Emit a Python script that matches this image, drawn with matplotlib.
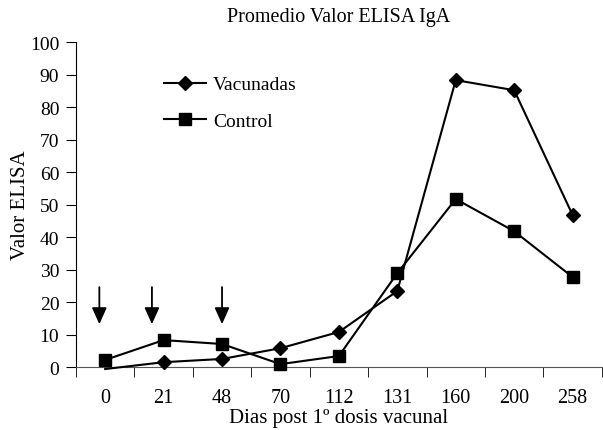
import matplotlib.pyplot as plt
import numpy as np

plt.rcParams['font.family'] = ['Liberation Serif', 'DejaVu Serif']

# Valores
dias = ["0", "21", "48", "70", "112", "131", "160", "200", "258"]
vacunadas = [-0.6, 1.5, 2.5, 5.8, 10.8, 23.4, 88.3, 85.2, 46.8]
control = [2.2, 8.3, 7.1, 0.9, 3.4, 28.9, 51.7, 41.8, 27.7]
# flechas de dosis vacunal (posicion en indice de categoria)
flechas_x = [-0.1, 0.8, 2.0]

x = np.arange(len(dias))

fig = plt.figure(figsize=(6.03, 4.31), dpi=100)
ax = fig.add_axes([0.126, 0.146, 0.872, 0.754])

ax.plot(x, vacunadas, color='black', lw=1.5, marker='D', ms=7,
        markevery=list(range(1, len(x))), label='Vacunadas', clip_on=False, zorder=3)
ax.plot(x, control, color='black', lw=1.5, marker='s', ms=8,
        label='Control', clip_on=False, zorder=3)

for fx in flechas_x:
    ax.annotate('', xy=(fx, 13.2), xytext=(fx, 24.6),
                arrowprops=dict(arrowstyle='-|>,head_width=0.45,head_length=1.0',
                                color='black', lw=1.3, shrinkA=0, shrinkB=0))

ax.set_xlim(-0.5, len(x) - 0.5)
ax.set_ylim(0, 100)
ax.set_yticks(range(0, 101, 10))
ax.set_xticks(x)
ax.set_xticklabels(dias)
ax.set_xticks(np.arange(-0.5, len(x), 1), minor=True)
ax.tick_params(axis='x', which='major', length=0, pad=15, labelsize=14.5)
ax.tick_params(axis='x', which='minor', length=7, direction='out')
ax.tick_params(axis='y', length=7, pad=5, direction='out', labelsize=14)

for s in ['top', 'right']:
    ax.spines[s].set_visible(False)
ax.spines['bottom'].set_color('#555555')

ax.set_title('Promedio Valor ELISA IgA', fontsize=14.5, pad=15)
ax.set_xlabel('Dias post 1º dosis vacunal', fontsize=15, labelpad=1)
ax.set_ylabel('Valor ELISA', fontsize=15, labelpad=0)

ax.legend(loc='upper left', bbox_to_anchor=(0.135, 0.95), frameon=False,
          fontsize=14, handlelength=2.15, handletextpad=0.35, labelspacing=0.95)

fig.savefig('out.png', dpi=100)
